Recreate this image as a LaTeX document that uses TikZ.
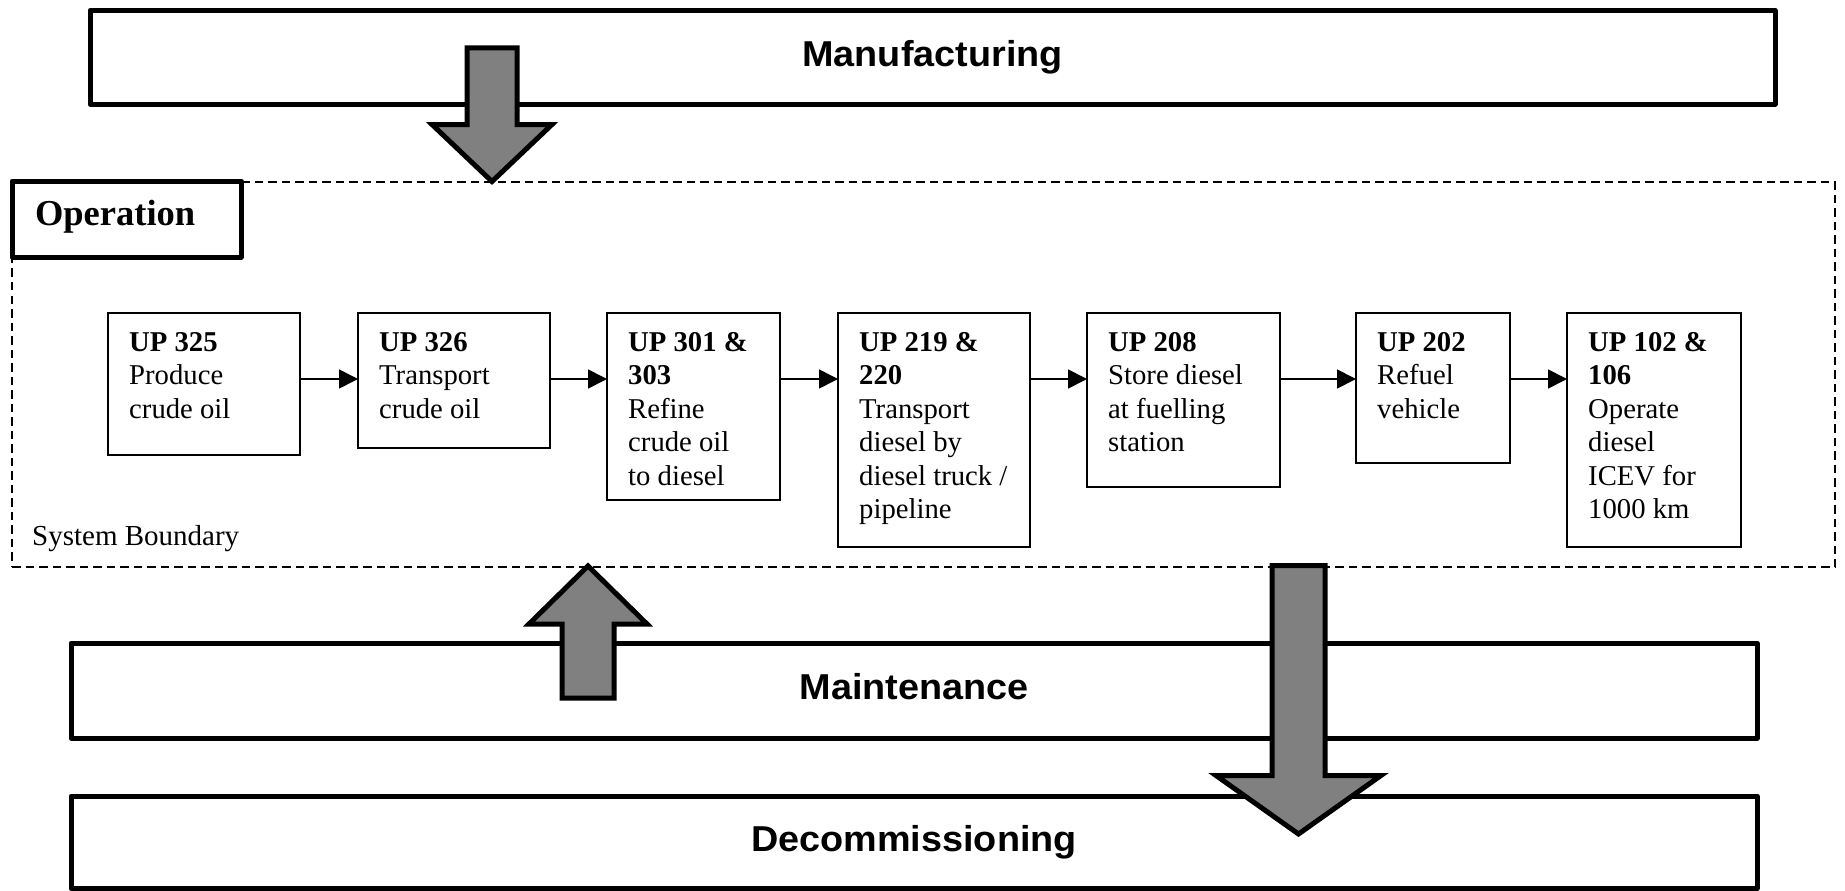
\documentclass[tikz,border=0pt]{standalone}
\usepackage{fontspec}
\setmainfont{Liberation Serif}
\newfontfamily\phasefont[FakeStretch=1.05]{Liberation Sans Bold}
\usetikzlibrary{arrows.meta,calc}
\definecolor{blockgray}{RGB}{128,128,128}

\begin{document}
\begin{tikzpicture}[x=1pt,y=-1pt,
  phasebox/.style={draw=black, line width=5pt, line join=round, fill=white,
    inner sep=0pt, outer sep=0pt,
    font=\phasefont\fontsize{36}{40}\selectfont, text height=26pt, text depth=7.6pt},
  stagebox/.style={draw=black, line width=5pt, line join=round, fill=white,
    inner xsep=23pt, inner ysep=0pt, outer sep=0pt, text width=183pt, align=left,
    font=\bfseries\fontsize{36.5}{40}\selectfont, text height=20pt, text depth=8pt},
  boundary/.style={draw=black, line width=1.7pt, dash pattern=on 8.5pt off 5pt,
    inner sep=0pt, outer sep=0pt},
  unitbox/.style={draw=black, line width=1.7pt, fill=white, inner sep=0pt,
    outer sep=0pt, anchor=north west},
  unittext/.style={anchor=north west, inner sep=0pt, align=left,
    font=\fontsize{28.7}{33.5}\selectfont},
  flow/.style={line width=1.7pt, -{Triangle[length=19pt,width=19pt]}},
  blockarrow/.style={draw=black, line width=5pt, fill=blockgray, line join=miter},
]
\useasboundingbox (0,0) rectangle (1845,891);

% life-cycle phase above the operation stage
\node[phasebox, minimum width=1685pt, minimum height=93.5pt] (manu) at (932.5,57.25) {Manufacturing};

% system boundary of the operation stage
\node[boundary, anchor=north west, minimum width=1823pt, minimum height=385pt] (sysb) at (12,182) {};
\node[anchor=base west, inner sep=0pt, font=\fontsize{29}{32}\selectfont] (sblabel) at (32,545) {System Boundary};
\node[stagebox, minimum width=229pt, minimum height=76pt] (oper) at (126.5,219) {Operation};

% unit processes
\node[unitbox, minimum width=192pt, minimum height=142pt] (b1) at (108,313) {};
\node[unitbox, minimum width=192pt, minimum height=135pt] (b2) at (358,313) {};
\node[unitbox, minimum width=173pt, minimum height=187pt] (b3) at (607,313) {};
\node[unitbox, minimum width=192pt, minimum height=234pt] (b4) at (838,313) {};
\node[unitbox, minimum width=193pt, minimum height=174pt] (b5) at (1087,313) {};
\node[unitbox, minimum width=154pt, minimum height=150pt] (b6) at (1356,313) {};
\node[unitbox, minimum width=174pt, minimum height=234pt] (b7) at (1567,313) {};

\node[unittext] (t1) at ($(b1.north west)+(21,19)$) {\textbf{UP 325}\\Produce\\crude oil};
\node[unittext] (t2) at ($(b2.north west)+(21,19)$) {\textbf{UP 326}\\Transport\\crude oil};
\node[unittext] (t3) at ($(b3.north west)+(21,19)$) {\textbf{UP 301 \&}\\\textbf{303}\\Refine\\crude oil\\to diesel};
\node[unittext] (t4) at ($(b4.north west)+(21,19)$) {\textbf{UP 219 \&}\\\textbf{220}\\Transport\\diesel by\\diesel truck /\\pipeline};
\node[unittext] (t5) at ($(b5.north west)+(21,19)$) {\textbf{UP 208}\\Store diesel\\at fuelling\\station};
\node[unittext] (t6) at ($(b6.north west)+(21,19)$) {\textbf{UP 202}\\Refuel\\vehicle};
\node[unittext] (t7) at ($(b7.north west)+(21,19)$) {\textbf{UP 102 \&}\\\textbf{106}\\Operate\\diesel\\ICEV for\\1000 km};

% process chain
\coordinate (row) at (0,379);
\foreach \a/\b in {b1/b2,b2/b3,b3/b4,b4/b5,b5/b6,b6/b7}
  \draw[flow] (\a.east |- row) -- (\b.west |- row);

% life-cycle phases below the operation stage
\node[phasebox, minimum width=1686pt, minimum height=95pt] (maint) at (914,690.5) {Maintenance};
\node[phasebox, minimum width=1686pt, minimum height=92.5pt] (decom) at (914,842.25) {Decommissioning};

% block arrows between the phases
\draw[blockarrow] (467,48) -- (517,48) -- (517,124.5) -- (552,124.5) -- (492,181.5)
  -- (432,124.5) -- (467,124.5) -- cycle;
\draw[blockarrow] (562,698) -- (562,624) -- (529,624) -- (588,566) -- (647,624)
  -- (614,624) -- (614,698) -- cycle;
\draw[blockarrow] (1272,565.5) -- (1325,565.5) -- (1325,775.5) -- (1381,775.5)
  -- (1298.5,834) -- (1216,775.5) -- (1272,775.5) -- cycle;
\end{tikzpicture}
\end{document}
